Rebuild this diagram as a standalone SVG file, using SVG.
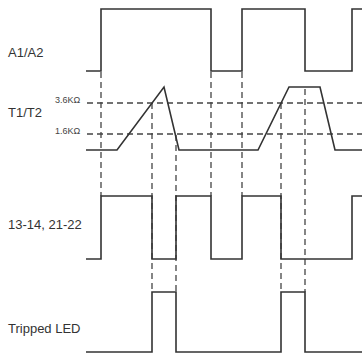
<svg xmlns="http://www.w3.org/2000/svg" width="362" height="353" viewBox="0 0 362 353">
<style>
.sig{fill:none;stroke:#333;stroke-width:1.6;stroke-linejoin:miter}
.dash{fill:none;stroke:#444;stroke-width:1.3;stroke-dasharray:6,4}
.lbl{font-family:"Liberation Sans",Arial,sans-serif;font-size:13px;fill:#333}
.sm{font-family:"Liberation Sans",Arial,sans-serif;font-size:9px;fill:#444}
</style>
<rect width="362" height="353" fill="#fff"/>
<g id="guides">
<line class="dash" x1="87" y1="103" x2="362" y2="103"/>
<line class="dash" x1="87" y1="134" x2="362" y2="134"/>
<line class="dash" x1="101" y1="72" x2="101" y2="196"/>
<line class="dash" x1="152" y1="103" x2="152" y2="292"/>
<line class="dash" x1="176" y1="135" x2="176" y2="292"/>
<line class="dash" x1="211" y1="72" x2="211" y2="196"/>
<line class="dash" x1="242" y1="72" x2="242" y2="196"/>
<line class="dash" x1="281" y1="103" x2="281" y2="292"/>
<line class="dash" x1="305" y1="89" x2="305" y2="292"/>
</g>
<g id="a1a2">
<text class="lbl" x="8" y="57">A1/A2</text>
<polyline class="sig" points="86,71 101,71 101,9 211,9 211,71 242,71 242,9 305,9 305,71 352,71 352,9 362,9"/>
</g>
<g id="t1t2">
<text class="lbl" x="8" y="117">T1/T2</text>
<text class="sm" x="55" y="103">3.6KΩ</text>
<text class="sm" x="55" y="134">1.6KΩ</text>
<polyline class="sig" points="86,150 117,150 164,87 179,150 258,150 289,87 320,87 335,150 362,150"/>
</g>
<g id="contacts">
<text class="lbl" x="8" y="229">13-14, 21-22</text>
<polyline class="sig" points="86,259 101,259 101,196 152,196 152,259 176,259 176,196 211,196 211,259 242,259 242,196 281,196 281,259 352,259 352,196 362,196"/>
</g>
<g id="led">
<text class="lbl" x="8" y="333">Tripped LED</text>
<polyline class="sig" points="86,352 152,352 152,292 176,292 176,352 281,352 281,292 305,292 305,352 362,352"/>
</g>
</svg>
